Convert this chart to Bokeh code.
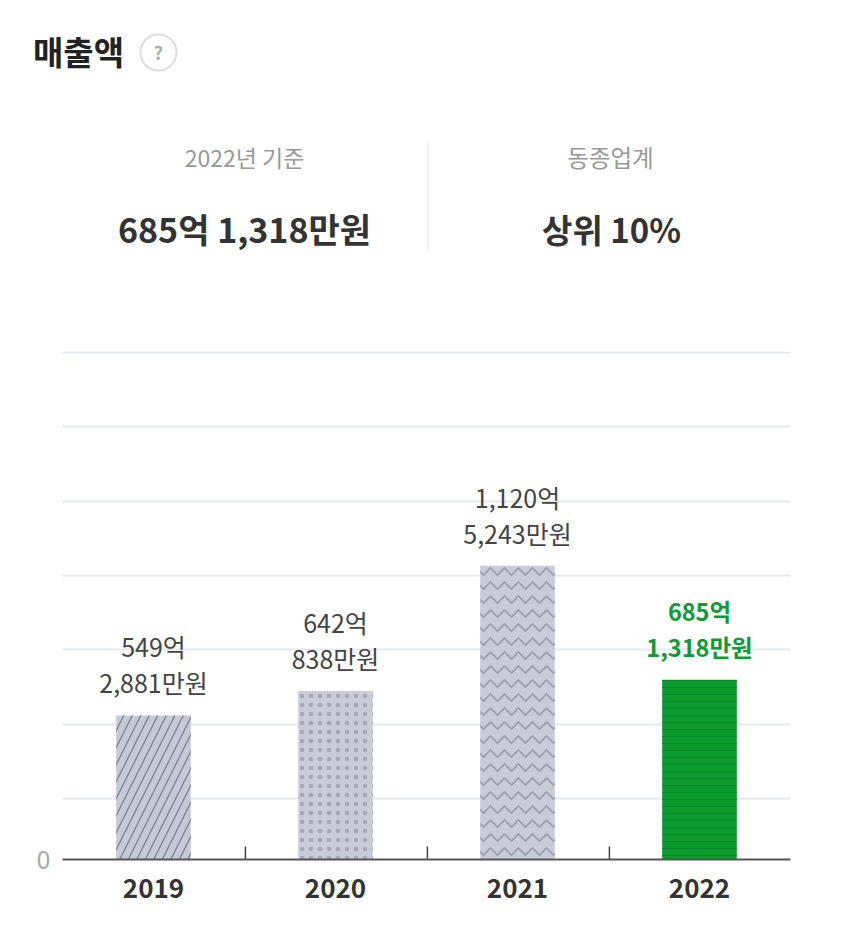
from bokeh.plotting import figure
from bokeh.layouts import column
from bokeh.models import FactorRange, Range1d, FixedTicker
from bokeh.core.properties import value
from bokeh.embed import file_html
from bokeh.resources import INLINE

FONT = "Noto Sans CJK KR"
years = ["2019", "2020", "2021", "2022"]
sales = [549.2881, 642.0838, 1120.5243, 685.1318]
line1 = ["549억", "642억", "1,120억", "685억"]
line2 = ["2,881만원", "838만원", "5,243만원", "1,318만원"]
patterns = ["right_diagonal_line", "dot", "horizontal_wave", "horizontal_line"]
fills = ["#c6c9d6", "#c9ccd8", "#c9ccd8", "#0b9a2c"]
hatches = ["#7f8394", "#a3a7b6", "#989cab", "#0a842a"]
tiles = [17, 9, 14, 7]
weights = [1.4, 1, 1.6, 1]
label_colors = ["#444444", "#444444", "#444444", "#109a35"]
label_styles = ["normal", "normal", "normal", "bold"]
label_sizes = ["25px", "25px", "25px", "23.5px"]
grid_values = [232, 514, 800, 1082, 1364, 1650, 1935]

head_texts = ["매출액", "?", "2022년 기준", "동종업계", "685억 1,318만원", "상위 10%"]
head_x = [78, 158, 244, 610, 244, 611]
head_y = [50, 51, 156, 156, 228, 228]
head_sizes = ["33px", "18px", "23px", "23.5px", "34px", "33px"]
head_colors = ["#222222", "#aaaaaa", "#999999", "#999999", "#333333", "#333333"]
head_styles = ["bold", "bold", "normal", "normal", "bold", "bold"]

HEAD_H = 340

head = figure(width=840, height=HEAD_H, output_backend="svg", toolbar_location=None,
              x_range=Range1d(0, 840), y_range=Range1d(HEAD_H, 0),
              x_axis_location=None, y_axis_location=None, min_border=0, frame_align=False,
              background_fill_color="white", border_fill_color="white", outline_line_color=None)
head.grid.visible = False
head.scatter(x=[158], y=[52], size=36, marker="circle", fill_color=None, line_color="#dddddd", line_width=2)
head.segment(x0=[427.5], x1=[427.5], y0=[141], y1=[251], line_color="#e4e4e4", line_width=1)
head.text(x=head_x, y=head_y, text=head_texts, text_font=value(FONT), text_font_size=head_sizes,
          text_color=head_colors, text_font_style=head_styles, text_align="center", text_baseline="middle")

p = figure(width=840, height=940 - HEAD_H, output_backend="svg", toolbar_location=None,
           x_range=FactorRange(factors=years, range_padding=0, factor_padding=0),
           y_range=Range1d(0, 1937), frame_align=False,
           min_border_left=62, min_border_right=50, min_border_top=351 - HEAD_H, min_border_bottom=81,
           background_fill_color="white", border_fill_color="white", outline_line_color=None)

p.xgrid.visible = False
p.ygrid.ticker = FixedTicker(ticks=grid_values)
p.ygrid.grid_line_color = "#e6e8f0"
p.ygrid.grid_line_width = 2

p.xaxis.axis_line_color = "#555555"
p.xaxis.axis_line_width = 2
p.xaxis.major_tick_line_color = None
p.xaxis.minor_tick_line_color = None
p.xaxis.major_label_text_font = FONT
p.xaxis.major_label_text_font_size = "26px"
p.xaxis.major_label_text_font_style = "bold"
p.xaxis.major_label_text_color = "#333333"
p.xaxis.major_label_standoff = 13

p.yaxis.ticker = FixedTicker(ticks=[0])
p.yaxis.axis_line_color = None
p.yaxis.major_tick_line_color = None
p.yaxis.minor_tick_line_color = None
p.yaxis.major_label_text_font = FONT
p.yaxis.major_label_text_font_size = "25px"
p.yaxis.major_label_text_color = "#aaaaaa"
p.yaxis.major_label_standoff = 6

source = dict(x=years, top=sales, fill=fills, hatch=hatches, pat=patterns, tile=tiles, wt=weights,
              l1=line1, l2=line2, lc=label_colors, ls=label_styles, lz=label_sizes)
p.vbar(x="x", top="top", width=0.41, bottom=0, source=source, fill_color="fill", line_color=None,
       hatch_pattern="pat", hatch_color="hatch", hatch_scale="tile", hatch_weight="wt")

for col, off in (("l1", -69), ("l2", -33)):
    p.text(x="x", y="top", text=col, source=source, text_color="lc", y_offset=off,
           text_align="center", text_baseline="middle", text_font=value(FONT), text_font_size="lz",
           text_font_style="ls")

# tick marks between the years
p.segment(x0=[[y, 0.505] for y in years[:3]], x1=[[y, 0.505] for y in years[:3]],
          y0=[0] * 3, y1=[50] * 3, line_color="#444444", line_width=1.5)

page = column(head, p, spacing=0)
open("out.html", "w").write(file_html(page, INLINE))
